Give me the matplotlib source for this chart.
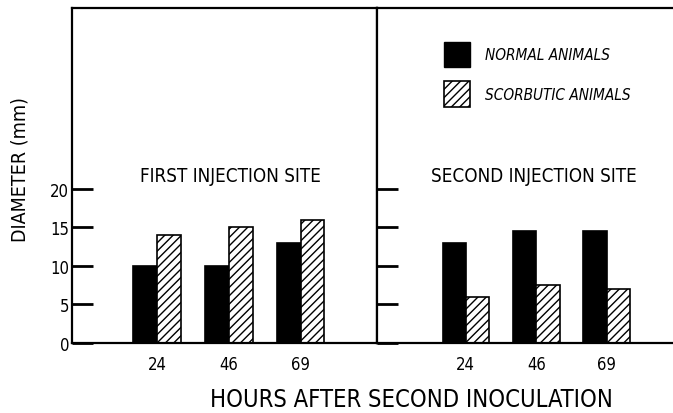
import matplotlib
matplotlib.use("Agg")
import matplotlib.pyplot as plt
from matplotlib.patches import Patch
import numpy as np

hours = ["24", "46", "69"]
first_normal = [10, 10, 13]
first_scorbutic = [14, 15, 16]
second_normal = [13, 14.5, 14.5]
second_scorbutic = [6, 7.5, 7]
yticks = [0, 5, 10, 15, 20]

plt.rcParams['font.family'] = ['DejaVu Sans']
plt.rcParams['font.stretch'] = 'condensed'
plt.rcParams['hatch.linewidth'] = 1.0

fig = plt.figure(figsize=(6.73, 4.14), dpi=100)
ax1 = fig.add_axes([72 / 673, 1 - 344 / 414, 305 / 673, 335 / 414])
ax2 = fig.add_axes([377 / 673, 1 - 344 / 414, 296 / 673, 335 / 414])

x = np.arange(len(hours))
w = 0.33

for ax, normal, scorb, xl in [(ax1, first_normal, first_scorbutic, (-1.18, 3.06)),
                              (ax2, second_normal, second_scorbutic, (-1.26, 2.94))]:
    ax.bar(x - w / 2, normal, w, color='black', edgecolor='black', linewidth=1.2)
    ax.bar(x + w / 2, scorb, w, color='white', edgecolor='black', hatch='////', linewidth=1.2)
    ax.set_xlim(*xl)
    ax.set_ylim(0, 43.5)
    ax.set_xticks(x)
    ax.set_xticklabels(hours, fontsize=12)
    ax.tick_params(axis='x', length=0, pad=9)
    ax.set_yticks(yticks)
    ax.tick_params(axis='y', direction='in', length=15, width=2)
    for s in ax.spines.values():
        s.set_linewidth(1.6)

ax1.set_yticklabels(yticks, fontsize=12)
ax1.tick_params(axis='y', pad=2)
ax2.set_yticklabels([])
ax2.spines['right'].set_visible(False)

ax1.text(0.52, 0.5, "FIRST INJECTION SITE", transform=ax1.transAxes,
         ha='center', va='center', fontsize=13.5)
ax2.text(0.53, 0.5, "SECOND INJECTION SITE", transform=ax2.transAxes,
         ha='center', va='center', fontsize=13.5)

ax1.set_ylabel("DIAMETER (mm)", fontsize=14)
ax1.yaxis.set_label_coords(-0.14, 0.52)
fig.text(411 / 673, 1 - 400 / 414, "HOURS AFTER SECOND INOCULATION",
         ha='center', va='center', fontsize=17)

handles = [Patch(facecolor='black', edgecolor='black'),
           Patch(facecolor='white', edgecolor='black', hatch='////', linewidth=1.2)]
ax2.legend(handles, ["NORMAL ANIMALS", "SCORBUTIC ANIMALS"],
           loc='upper left', bbox_to_anchor=(0.18, 0.94), frameon=False,
           handlelength=1.7, handleheight=2.2, handletextpad=1.0,
           labelspacing=0.9, prop={'style': 'italic', 'size': 11})

fig.savefig("out.png", dpi=100)
